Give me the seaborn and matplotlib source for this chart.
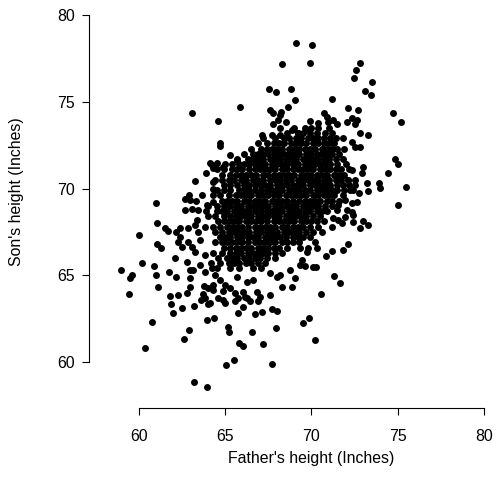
import numpy as np
import pandas as pd
import seaborn as sns
import matplotlib.pyplot as plt

plt.rcParams['font.family'] = ['Liberation Sans', 'DejaVu Sans']

# scattered points around the edge of the cloud, read one by one (inches)
edge_father = [
    63.06, 69.08, 68.31, 69.91, 67.54, 67.94, 68.83, 69.04, 65.86, 68.62,
    67.59, 67.75, 68.21, 68.17, 64.60, 68.08, 68.52, 67.79, 69.91, 70.05,
    72.81, 72.58, 72.46, 73.52, 73.10, 73.45, 71.17, 72.10, 72.71, 74.72,
    75.21, 70.39, 70.74, 70.88, 70.97, 71.26, 71.46, 72.04, 72.33, 72.62,
    72.52, 64.12, 64.31, 63.87, 63.25, 64.31, 64.31, 63.63, 62.90, 62.67,
    62.96, 63.30, 60.99, 63.92, 64.31, 62.67, 63.06, 63.44, 63.88, 64.70,
    64.70, 67.11, 67.69, 68.17, 68.85, 69.23, 69.72, 68.17, 65.28, 65.66,
    64.50, 64.21, 64.89, 74.84, 75.00, 74.45, 73.93, 73.97, 73.20, 73.26,
    72.75, 75.46, 75.00, 72.62, 73.29, 72.81, 72.33, 72.52, 72.81, 73.00,
    72.91, 72.33, 72.13, 72.52, 72.23, 71.94, 72.33, 71.55,
    61.03, 61.51, 61.66, 60.00, 61.03, 61.28, 62.14, 62.38, 62.28, 62.48,
    62.86, 63.06, 63.25, 63.34, 63.25, 62.86, 62.38, 62.09, 62.77, 62.96,
    63.15, 63.54, 63.83, 64.21, 60.16, 60.89, 58.96, 59.61, 59.48, 60.97,
    61.74, 62.13, 62.96, 61.12, 62.96, 63.79, 63.98, 59.42, 61.80, 62.28,
    62.77, 63.73, 63.83, 64.31, 63.54, 63.83, 63.42,
    64.41, 64.70, 64.31, 64.99, 64.89, 65.28, 65.57, 66.05, 66.14, 66.82,
    67.01, 67.59, 68.27, 68.85, 69.04, 68.17, 68.75, 69.33, 69.43, 69.33,
    69.72, 67.98, 67.59, 66.63, 66.24, 65.66,
    71.46, 72.04, 72.33, 72.42, 71.94, 71.55, 71.26, 71.75, 72.42, 73.00,
    73.29, 72.81, 71.17, 72.13, 71.84, 71.17, 70.82, 69.62, 70.25, 70.10,
    71.32, 71.65, 70.55,
    61.86, 61.99, 62.48, 63.21, 63.59, 63.98, 60.74, 63.92, 64.37, 62.90,
    62.63, 60.37, 63.19, 63.96,
    64.60, 64.89, 64.99, 65.57, 65.76, 66.24, 66.43, 66.92, 64.12, 66.05,
    65.76, 66.72, 67.11, 67.69, 68.02, 65.18, 65.23, 66.53, 67.92, 69.49,
    69.87, 65.81, 66.01, 67.17, 65.51, 65.03, 67.69, 70.20,
]
edge_son = [
    74.33, 78.39, 77.16, 77.25, 75.73, 75.58, 75.72, 75.10, 74.70, 74.68,
    74.52, 74.33, 74.39, 74.24, 73.91, 73.95, 73.82, 73.70, 73.89, 78.27,
    77.23, 76.85, 76.37, 76.12, 75.60, 75.37, 75.14, 74.62, 74.51, 74.33,
    73.85, 73.76, 74.33, 74.14, 73.82, 73.95, 73.70, 73.85, 74.05, 73.95,
    73.70, 71.45, 71.16, 70.91, 70.41, 70.39, 69.95, 69.64, 69.63, 69.39,
    69.34, 69.26, 69.15, 69.05, 69.24, 68.76, 68.82, 68.76, 68.73, 72.64,
    72.45, 73.08, 73.08, 73.08, 73.37, 73.18, 73.37, 73.47, 71.93, 71.64,
    71.45, 71.35, 71.26, 71.68, 71.41, 70.88, 70.30, 70.01, 70.33, 69.87,
    69.72, 70.10, 69.05, 69.24, 73.08, 73.18, 72.70, 72.41, 72.41, 71.26,
    70.88, 71.07, 70.49, 70.20, 69.91, 69.34, 69.15, 69.05,
    67.99, 67.74, 67.55, 67.32, 66.78, 66.59, 67.48, 67.22, 66.93, 66.65,
    66.93, 66.65, 66.36, 68.18, 67.90, 67.71, 67.71, 65.98, 65.78, 65.30,
    65.30, 65.59, 65.20, 65.40, 65.69, 65.55, 65.30, 65.01, 64.86, 65.01,
    65.20, 64.90, 64.86, 64.34, 64.34, 64.38, 64.25, 63.94, 63.82, 63.86,
    63.98, 63.90, 63.71, 64.15, 67.03, 66.17, 67.49,
    65.01, 64.73, 64.44, 64.44, 64.09, 64.28, 63.96, 64.05, 63.76, 64.02,
    63.76, 63.86, 64.34, 64.34, 64.82, 65.01, 65.30, 65.59, 65.88, 66.55,
    66.36, 64.92, 65.11, 64.73, 64.63, 64.92,
    68.76, 68.76, 68.66, 68.47, 68.37, 68.18, 68.28, 67.99, 68.09, 68.13,
    67.90, 67.71, 67.80, 66.78, 66.46, 66.40, 66.13, 65.55, 65.45, 65.50,
    64.96, 64.57, 63.92,
    63.33, 62.81, 63.13, 63.24, 63.57, 63.33, 62.32, 62.42, 62.55, 61.84,
    61.33, 60.82, 58.83, 58.58,
    63.71, 63.57, 63.38, 63.52, 63.67, 63.67, 63.52, 63.52, 63.38, 63.19,
    62.84, 62.77, 62.90, 63.05, 62.94, 62.03, 61.75, 61.71, 61.94, 62.23,
    62.52, 61.08, 60.94, 61.05, 60.12, 59.83, 59.87, 61.27,
]

# dense middle of the cloud: one son height per row, the fathers on that row
core_son = [73.5, 73.2, 72.9, 72.6, 72.3, 72.0, 71.7, 71.4, 71.1, 70.8,
            70.5, 70.2, 69.9, 69.6, 69.3, 69.0, 68.7, 68.4, 68.1, 67.8,
            67.5, 67.2, 66.9, 66.6, 66.3, 66.0, 65.7, 65.4]
core_father = [
    [69.0, 69.6, 70.0, 70.4, 71.0],
    [68.6, 69.2, 69.5, 69.9, 70.3, 70.8, 71.2],
    [67.2, 67.9, 68.4, 68.7, 69.1, 69.4, 69.8, 70.1, 70.4, 70.7, 71.1, 71.4, 71.8],
    [66.9, 67.4, 67.8, 68.1, 68.4, 68.8, 69.1, 69.4, 69.7, 70.1, 70.4, 70.7, 71.0, 71.3],
    [66.5, 67.1, 67.4, 67.7, 68.0, 68.3, 68.7, 69.0, 69.3, 69.6, 69.9, 70.2, 70.6, 70.9, 71.2, 71.5, 71.9],
    [66.1, 66.6, 66.9, 67.2, 67.5, 67.8, 68.1, 68.4, 68.7, 69.0, 69.3, 69.7, 70.0, 70.3, 70.6, 70.9, 71.2, 71.6],
    [65.7, 66.3, 66.6, 66.9, 67.2, 67.6, 67.9, 68.2, 68.5, 68.8, 69.1, 69.5, 69.8, 70.1, 70.4, 70.7, 71.0, 71.4, 71.8],
    [65.0, 65.4, 65.8, 66.1, 66.4, 66.7, 67.0, 67.3, 67.7, 68.0, 68.3, 68.6, 68.9, 69.2, 69.6, 69.9, 70.2, 70.5, 70.8, 71.1, 71.5, 72.0],
    [64.5, 64.9, 65.4, 65.7, 66.0, 66.4, 66.7, 67.0, 67.3, 67.6, 67.9, 68.3, 68.6, 68.9, 69.2, 69.5, 69.8, 70.1, 70.5, 70.8, 71.1, 71.4, 71.7, 72.2],
    [64.8, 65.3, 65.6, 65.9, 66.2, 66.5, 66.8, 67.2, 67.5, 67.8, 68.1, 68.4, 68.7, 69.0, 69.4, 69.7, 70.0, 70.3, 70.6, 70.9, 71.3, 71.6, 71.9],
    [64.4, 64.8, 65.2, 65.5, 65.9, 66.2, 66.6, 66.9, 67.2, 67.6, 67.9, 68.2, 68.5, 68.8, 69.2, 69.5, 69.8, 70.1, 70.4, 70.7, 71.0, 71.4, 71.7, 72.1, 72.5],
    [64.9, 65.3, 65.7, 66.1, 66.4, 66.7, 67.0, 67.3, 67.6, 68.0, 68.3, 68.6, 68.9, 69.2, 69.5, 69.9, 70.2, 70.5, 70.8, 71.1, 71.5, 71.8, 72.2],
    [64.5, 64.9, 65.3, 65.8, 66.1, 66.4, 66.7, 67.1, 67.4, 67.7, 68.0, 68.3, 68.7, 69.0, 69.3, 69.6, 69.9, 70.3, 70.6, 70.9, 71.2, 71.5, 71.9, 72.4],
    [64.3, 64.7, 65.2, 65.6, 65.9, 66.2, 66.5, 66.9, 67.2, 67.5, 67.8, 68.1, 68.5, 68.8, 69.1, 69.4, 69.7, 70.1, 70.4, 70.7, 71.0, 71.3, 71.8],
    [64.8, 65.1, 65.4, 65.7, 66.1, 66.4, 66.7, 67.0, 67.3, 67.7, 68.0, 68.3, 68.6, 68.9, 69.3, 69.6, 69.9, 70.2, 70.5, 70.9, 71.2, 71.6],
    [64.0, 64.5, 64.9, 65.3, 65.6, 65.9, 66.3, 66.6, 66.9, 67.2, 67.5, 67.9, 68.2, 68.5, 68.8, 69.1, 69.5, 69.8, 70.1, 70.4, 70.8, 71.2],
    [64.5, 64.8, 65.1, 65.5, 65.8, 66.1, 66.4, 66.7, 67.1, 67.4, 67.7, 68.0, 68.3, 68.7, 69.0, 69.3, 69.6, 69.9, 70.3, 70.6, 70.9],
    [64.0, 64.4, 64.9, 65.3, 65.6, 65.9, 66.2, 66.5, 66.9, 67.2, 67.5, 67.8, 68.1, 68.5, 68.8, 69.1, 69.4, 69.7, 70.1, 70.5],
    [64.6, 64.9, 65.2, 65.5, 65.8, 66.2, 66.5, 66.8, 67.1, 67.4, 67.8, 68.1, 68.4, 68.7, 69.0, 69.4, 69.7, 70.0, 70.3, 70.7],
    [63.8, 64.3, 64.7, 65.1, 65.4, 65.7, 66.0, 66.3, 66.7, 67.0, 67.3, 67.6, 67.9, 68.3, 68.6, 68.9, 69.2, 69.5, 69.9, 70.4],
    [64.4, 64.8, 65.2, 65.5, 65.8, 66.1, 66.4, 66.8, 67.1, 67.4, 67.7, 68.0, 68.4, 68.7, 69.0, 69.3, 69.7, 70.1, 70.6],
    [64.7, 65.0, 65.3, 65.7, 66.0, 66.3, 66.6, 66.9, 67.3, 67.6, 67.9, 68.2, 68.5, 68.9, 69.2, 69.5, 69.9],
    [64.4, 64.8, 65.1, 65.4, 65.7, 66.0, 66.3, 66.7, 67.0, 67.3, 67.6, 67.9, 68.3, 68.6, 68.9, 69.3, 70.2],
    [64.9, 65.3, 65.6, 65.9, 66.2, 66.5, 66.9, 67.2, 67.5, 67.8, 68.1, 68.6, 69.8, 70.3],
    [64.3, 64.8, 65.3, 65.6, 65.9, 66.3, 66.6, 66.9, 67.2, 67.5, 67.9, 68.3],
    [64.6, 65.1, 65.4, 65.7, 66.1, 66.4, 66.7, 67.0, 67.4, 67.9],
    [64.2, 64.7, 65.2, 65.5, 65.8, 66.2, 66.5, 66.9, 67.3],
    [64.5, 65.3, 65.8, 66.6, 67.1],
]

rows = [(f, s) for s, fs in zip(core_son, core_father) for f in fs]
df = pd.DataFrame({
    "father": edge_father + [r[0] for r in rows],
    "son": edge_son + [r[1] for r in rows],
})

fig = plt.figure(figsize=(4.97, 4.95), dpi=100)
ax = fig.add_axes([0.1797, 0.1677, 0.8203, 0.8323])
sns.scatterplot(data=df, x="father", y="son", color="black", s=25,
                linewidth=0, ax=ax, legend=False)

ax.set_xlim(57.12, 80.754)
ax.set_ylim(57.12, 80.865)
ax.set_xticks([60, 65, 70, 75, 80])
ax.set_yticks([60, 65, 70, 75, 80])
for side in ["top", "right"]:
    ax.spines[side].set_visible(False)
ax.spines["left"].set_bounds(60, 80)
ax.spines["bottom"].set_bounds(60, 80)
ax.spines["bottom"].set_position(("data", 57.35))
ax.spines["left"].set_linewidth(0.8)
ax.spines["bottom"].set_linewidth(0.8)
ax.tick_params(axis="both", length=5, width=0.8, direction="out",
               labelsize=11.4, colors="black")
ax.tick_params(axis="x", pad=10)
ax.tick_params(axis="y", pad=5.5)
ax.set_xlabel("")
ax.set_ylabel("")

fig.text(311 / 497, 1 - 458 / 495, "Father's height (Inches)",
         ha="center", va="center", fontsize=11.4)
fig.text(17 / 497, 1 - 192 / 495, "Son's height (Inches)",
         ha="center", va="center", rotation=90, fontsize=11.4)

plt.savefig("out.png", dpi=100)
